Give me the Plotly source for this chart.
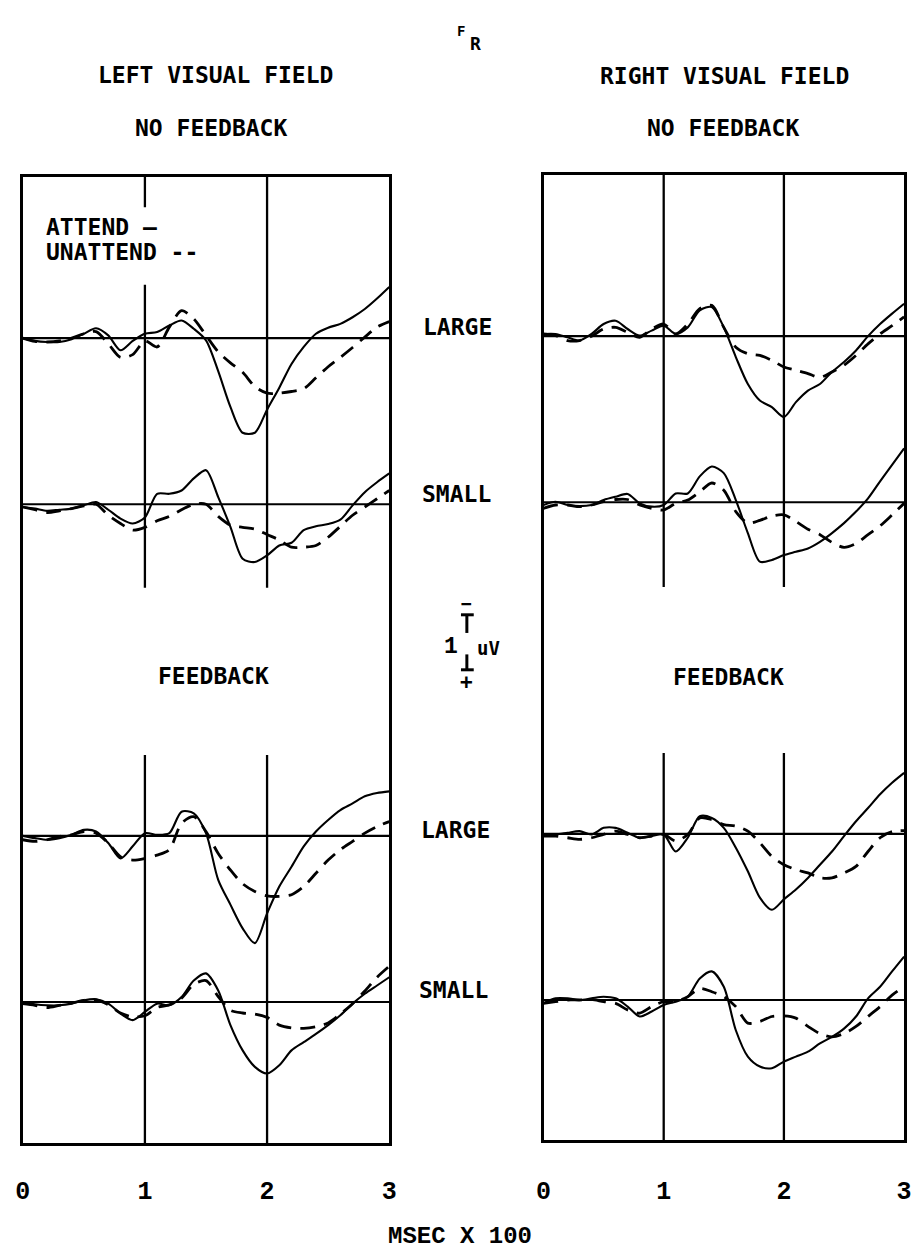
import plotly.graph_objects as go

# ---------------- data (uV, positive = downward deflection) ----------------
TIME = [0.0, 0.1, 0.2, 0.3, 0.4, 0.5, 0.6, 0.7, 0.8, 0.9, 1.0,
        1.1, 1.2, 1.3, 1.4, 1.5, 1.6, 1.7, 1.8, 1.9, 2.0,
        2.1, 2.2, 2.3, 2.4, 2.5, 2.6, 2.7, 2.8, 2.9, 3.0]   # msec x 100
TICK_VALUES = [0, 1, 2, 3]
TICK_LABELS = ["0", "1", "2", "3"]
ROW_LABELS = ["LARGE", "SMALL", "LARGE", "SMALL"]

LVF_NF_LARGE_ATTEND = [0.0, 0.05, 0.07, 0.07, 0.02, -0.08, -0.18, -0.05, 0.22, 0.05, -0.08,
                       -0.11, -0.23, -0.32, -0.17, 0.04, 0.6, 1.25, 1.72, 1.72, 1.3,
                       0.9, 0.47, 0.16, -0.08, -0.19, -0.26, -0.38, -0.53, -0.72, -0.93]
LVF_NF_LARGE_UNATTEND = [0.0, 0.06, 0.07, 0.05, 0.0, -0.08, -0.12, 0.1, 0.35, 0.3, 0.05,
                         0.16, -0.2, -0.5, -0.35, -0.05, 0.25, 0.45, 0.62, 0.88, 1.0,
                         1.0, 0.97, 0.92, 0.72, 0.52, 0.35, 0.17, -0.02, -0.2, -0.3]
LVF_NF_SMALL_ATTEND = [0.05, 0.08, 0.12, 0.1, 0.08, 0.02, -0.04, 0.1, 0.26, 0.35, 0.24,
                       -0.19, -0.19, -0.25, -0.47, -0.62, -0.13, 0.41, 0.99, 1.05, 0.93,
                       0.75, 0.7, 0.47, 0.4, 0.36, 0.28, 0.02, -0.22, -0.4, -0.56]
LVF_NF_SMALL_UNATTEND = [0.05, 0.1, 0.15, 0.12, 0.08, 0.03, 0.0, 0.2, 0.35, 0.47, 0.42,
                         0.3, 0.22, 0.1, 0.0, 0.0, 0.22, 0.38, 0.42, 0.45, 0.55,
                         0.65, 0.78, 0.78, 0.75, 0.6, 0.4, 0.2, 0.05, -0.1, -0.25]
LVF_FB_LARGE_ATTEND = [0.0, 0.04, 0.07, 0.04, -0.02, -0.11, -0.08, 0.13, 0.41, 0.19, -0.05,
                       -0.02, -0.05, -0.44, -0.41, -0.05, 0.8, 1.25, 1.68, 1.95, 1.41,
                       0.92, 0.56, 0.19, -0.08, -0.29, -0.47, -0.59, -0.72, -0.78, -0.81]
LVF_FB_LARGE_UNATTEND = [0.07, 0.1, 0.07, 0.01, -0.02, -0.08, -0.05, 0.13, 0.38, 0.44, 0.41,
                         0.35, 0.25, -0.23, -0.35, -0.08, 0.32, 0.62, 0.87, 1.01, 1.09,
                         1.1, 1.07, 0.92, 0.68, 0.44, 0.25, 0.1, -0.05, -0.17, -0.26]
LVF_FB_SMALL_ATTEND = [0.0, 0.04, 0.06, 0.06, 0.03, -0.03, -0.05, 0.03, 0.21, 0.33, 0.18,
                       0.03, 0.06, -0.09, -0.39, -0.52, -0.21, 0.42, 0.88, 1.18, 1.3,
                       1.15, 0.88, 0.73, 0.58, 0.42, 0.24, 0.03, -0.15, -0.3, -0.45]
LVF_FB_SMALL_UNATTEND = [0.03, 0.06, 0.1, 0.06, 0.02, -0.03, -0.04, 0.05, 0.2, 0.27, 0.25,
                         0.1, 0.05, -0.07, -0.32, -0.39, -0.1, 0.15, 0.2, 0.22, 0.28,
                         0.42, 0.47, 0.48, 0.45, 0.38, 0.22, 0.03, -0.2, -0.45, -0.65]

RVF_NF_LARGE_ATTEND = [-0.04, -0.04, 0.02, 0.08, -0.04, -0.22, -0.28, -0.13, -0.01, -0.1, -0.19,
                       -0.04, -0.16, -0.47, -0.53, -0.16, 0.38, 0.87, 1.17, 1.29, 1.47,
                       1.2, 0.99, 0.87, 0.65, 0.47, 0.26, 0.0, -0.22, -0.41, -0.59]
RVF_NF_LARGE_UNATTEND = [-0.04, -0.01, 0.08, 0.08, 0.0, -0.13, -0.16, -0.07, 0.02, -0.13, -0.22,
                         -0.04, -0.22, -0.5, -0.56, -0.16, 0.2, 0.32, 0.35, 0.44, 0.56,
                         0.62, 0.68, 0.75, 0.65, 0.53, 0.35, 0.14, -0.04, -0.19, -0.35]
RVF_NF_SMALL_ATTEND = [0.05, -0.01, 0.05, 0.07, 0.05, -0.04, -0.1, -0.15, 0.02, 0.08, 0.05,
                       -0.16, -0.16, -0.47, -0.65, -0.53, -0.04, 0.56, 1.08, 1.05, 0.96,
                       0.9, 0.84, 0.72, 0.56, 0.38, 0.17, -0.07, -0.38, -0.68, -0.98]
RVF_NF_SMALL_UNATTEND = [0.11, 0.05, 0.05, 0.08, 0.05, -0.01, -0.05, -0.05, 0.05, 0.11, 0.14,
                         0.02, -0.04, -0.19, -0.35, -0.22, 0.17, 0.38, 0.33, 0.25, 0.23,
                         0.35, 0.49, 0.59, 0.73, 0.82, 0.75, 0.59, 0.43, 0.23, 0.02]
RVF_FB_LARGE_ATTEND = [0.01, 0.01, -0.02, -0.05, 0.01, -0.11, -0.11, -0.02, 0.07, 0.04, 0.01,
                       0.32, 0.07, -0.32, -0.29, -0.11, 0.25, 0.68, 1.16, 1.38, 1.19,
                       1.01, 0.8, 0.56, 0.32, 0.04, -0.23, -0.47, -0.72, -0.93, -1.11]
RVF_FB_LARGE_UNATTEND = [0.04, 0.04, 0.07, 0.1, 0.07, 0.01, -0.05, 0.01, 0.07, 0.04, 0.01,
                         0.13, 0.01, -0.29, -0.26, -0.17, -0.14, -0.05, 0.16, 0.41, 0.56,
                         0.65, 0.71, 0.8, 0.8, 0.71, 0.59, 0.32, 0.07, -0.04, -0.06]
RVF_FB_SMALL_ATTEND = [0.06, -0.03, -0.03, 0.0, -0.03, -0.06, -0.03, 0.12, 0.3, 0.21, 0.09,
                       0.03, -0.06, -0.39, -0.52, -0.24, 0.55, 1.03, 1.21, 1.24, 1.12,
                       1.03, 0.94, 0.79, 0.67, 0.52, 0.3, -0.03, -0.24, -0.52, -0.79]
RVF_FB_SMALL_UNATTEND = [0.06, 0.03, 0.0, 0.0, -0.01, 0.03, 0.06, 0.18, 0.24, 0.12, 0.03,
                         0.03, -0.06, -0.21, -0.15, -0.06, 0.12, 0.42, 0.39, 0.3, 0.29,
                         0.33, 0.48, 0.61, 0.67, 0.61, 0.48, 0.3, 0.12, -0.09, -0.24]

# ---------------- layout helpers ----------------
W, H = 918, 1252
PX_PER_UV = 55.0
BASELINES = [2.93, 5.95, 11.98, 15.0]   # uV below panel top where each record's zero sits

def fx(p):
    return p / W

def fy(p):
    return 1 - p / H

SANS = "DejaVu Sans Mono, Liberation Mono, monospace"
SERIF = "Liberation Mono, Courier New, monospace"

fig = go.Figure()

panels = [
    ("x", "y", [LVF_NF_LARGE_ATTEND, LVF_NF_SMALL_ATTEND, LVF_FB_LARGE_ATTEND, LVF_FB_SMALL_ATTEND],
     [LVF_NF_LARGE_UNATTEND, LVF_NF_SMALL_UNATTEND, LVF_FB_LARGE_UNATTEND, LVF_FB_SMALL_UNATTEND]),
    ("x2", "y2", [RVF_NF_LARGE_ATTEND, RVF_NF_SMALL_ATTEND, RVF_FB_LARGE_ATTEND, RVF_FB_SMALL_ATTEND],
     [RVF_NF_LARGE_UNATTEND, RVF_NF_SMALL_UNATTEND, RVF_FB_LARGE_UNATTEND, RVF_FB_SMALL_UNATTEND]),
]

for xa, ya, attend, unattend in panels:
    for base, att, un in zip(BASELINES, attend, unattend):
        fig.add_trace(go.Scatter(x=TIME, y=[base + v for v in un], xaxis=xa, yaxis=ya,
                                 mode="lines", line=dict(color="black", width=2.8, dash="15px,9px",
                                                         shape="spline", smoothing=0.8),
                                 hoverinfo="skip", showlegend=False))
        fig.add_trace(go.Scatter(x=TIME, y=[base + v for v in att], xaxis=xa, yaxis=ya,
                                 mode="lines", line=dict(color="black", width=2.1,
                                                         shape="spline", smoothing=0.8),
                                 hoverinfo="skip", showlegend=False))

shapes = []
# baselines
for xa, ya in (("x", "y"), ("x2", "y2")):
    for base in BASELINES:
        shapes.append(dict(type="line", xref=xa, yref=ya, x0=0, x1=3, y0=base, y1=base,
                           line=dict(color="black", width=2.2)))

# vertical time markers (with gaps where labels sit)
LEFT_SEGMENTS = {1: [(0, 0.55), (1.96, 7.47), (10.51, 17.6)], 2: [(0, 7.47), (10.51, 17.6)]}
RIGHT_SEGMENTS = {1: [(0, 7.49), (10.51, 17.6)], 2: [(0, 7.49), (10.51, 17.6)]}
for xa, ya, segs in (("x", "y", LEFT_SEGMENTS), ("x2", "y2", RIGHT_SEGMENTS)):
    for xv, lst in segs.items():
        for y0, y1 in lst:
            shapes.append(dict(type="line", xref=xa, yref=ya, x0=xv, x1=xv, y0=y0, y1=y1,
                               line=dict(color="black", width=2.3)))

# 1 uV calibration bar (drawn in the left panel's uV scale)
BAR_TOP = 7.96
BAR_X = fx(467)
shapes += [
    dict(type="line", xref="paper", yref="y", x0=BAR_X, x1=BAR_X, y0=BAR_TOP, y1=BAR_TOP + 0.33,
         line=dict(color="black", width=3)),
    dict(type="line", xref="paper", yref="y", x0=BAR_X, x1=BAR_X, y0=BAR_TOP + 0.72, y1=BAR_TOP + 1.0,
         line=dict(color="black", width=3)),
    dict(type="line", xref="paper", yref="y", x0=fx(461), x1=fx(474), y0=BAR_TOP, y1=BAR_TOP,
         line=dict(color="black", width=3)),
    dict(type="line", xref="paper", yref="y", x0=fx(461), x1=fx(474), y0=BAR_TOP + 1.0, y1=BAR_TOP + 1.0,
         line=dict(color="black", width=3)),
]

ann = []

def label(text, x, y, size=23, family=SANS, xanchor="center"):
    ann.append(dict(text=text, x=fx(x), y=fy(y), xref="paper", yref="paper", showarrow=False,
                    xanchor=xanchor, yanchor="middle",
                    font=dict(family=family, size=size, color="black", weight="bold")))

label("F", 461, 31, size=14)
label("R", 476, 43, size=18)
label("LEFT VISUAL FIELD", 211, 75)
label("NO FEEDBACK", 207, 128)
label("RIGHT VISUAL FIELD", 729, 76)
label("NO FEEDBACK", 728, 128)
label("ATTEND \u2014", 37, 227, xanchor="left")
label("UNATTEND --", 37, 252, xanchor="left")
label(ROW_LABELS[0], 457, 327)
label(ROW_LABELS[1], 456, 494)
label("FEEDBACK", 209, 676)
label("FEEDBACK", 733, 677)
label(ROW_LABELS[2], 455, 830)
label(ROW_LABELS[3], 453, 990)
label("\u2212", 467, 604, size=18)
label("+", 467, 682, size=21)
label("1", 451, 647, size=23, family=SERIF)
label("uV", 489, 648, size=19)
label("MSEC X 100", 460, 1236, size=24, family=SERIF)

axis_common = dict(showline=True, mirror=True, linecolor="black", linewidth=3,
                   showgrid=False, zeroline=False, fixedrange=True)

fig.update_layout(
    width=W, height=H,
    margin=dict(l=0, r=0, t=0, b=0),
    paper_bgcolor="white", plot_bgcolor="white",
    showlegend=False,
    shapes=shapes, annotations=ann,
    xaxis=dict(domain=[fx(15), fx(388)], range=[0, 3], anchor="y",
               tickvals=TICK_VALUES, ticktext=TICK_LABELS, ticks="", ticklabelstandoff=23,
               tickfont=dict(family=SERIF, size=25, color="black", weight="bold"), **axis_common),
    yaxis=dict(domain=[fy(1143), fy(177)], range=[(1143 - 177) / PX_PER_UV, 0], anchor="x",
               showticklabels=False, ticks="", **axis_common),
    xaxis2=dict(domain=[fx(545), fx(912)], range=[0, 3], anchor="y2",
                tickvals=TICK_VALUES, ticktext=TICK_LABELS, ticks="", ticklabelstandoff=26,
                tickfont=dict(family=SERIF, size=25, color="black", weight="bold"), **axis_common),
    yaxis2=dict(domain=[fy(1140), fy(175)], range=[(1140 - 175) / PX_PER_UV, 0], anchor="x2",
                showticklabels=False, ticks="", **axis_common),
)

fig.write_html("out.html", config={"displayModeBar": False},
               post_script="document.body.style.margin='0px';document.body.style.overflow='hidden';")
